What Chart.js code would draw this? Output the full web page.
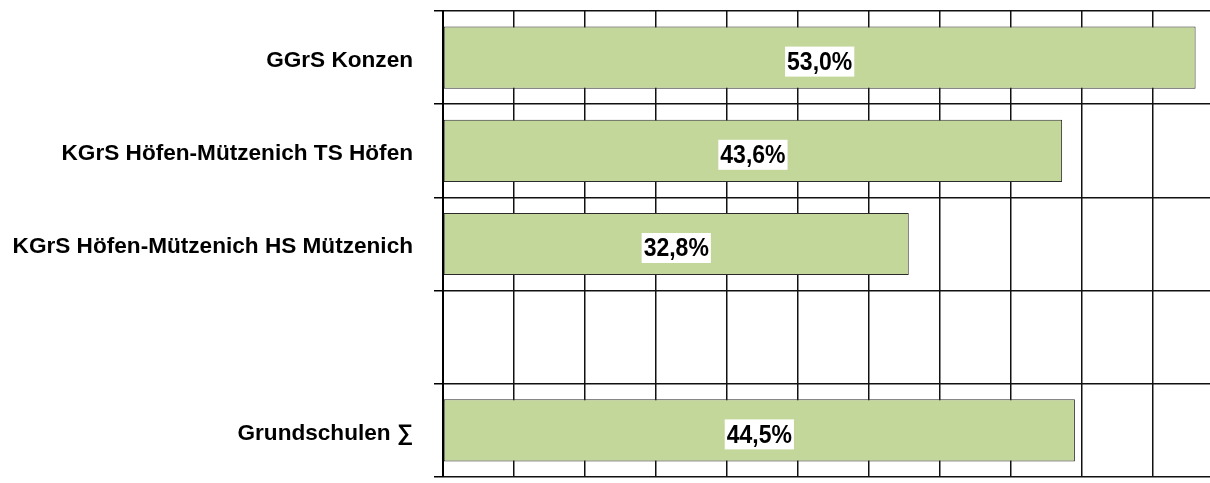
<!DOCTYPE html>
<html>
<head>
<meta charset="utf-8">
<script src="https://cdn.jsdelivr.net/npm/chart.js@4"></script>
<style>
  html, body { margin: 0; padding: 0; background: #fff; overflow: hidden; }
  #wrap { width: 1240px; height: 483px; }
</style>
</head>
<body>
<div id="wrap"><canvas id="schulenChart"></canvas></div>
<script>
// Kategorien (leere Zeile vor der Summe)
const schulen = ['GGrS Konzen', 'KGrS Höfen-Mützenich TS Höfen', 'KGrS Höfen-Mützenich HS Mützenich', '', 'Grundschulen ∑'];
const anteile = [53.0, 43.6, 32.8, null, 44.5];
const achseMax = 55;
const achseSchritt = 5;

const schrift = "'Liberation Sans', Arial, sans-serif";

// Werte mit weißem Kasten mittig in den Balken
const wertLabels = {
    id: 'wertLabels',
    afterDatasetsDraw(chart) {
        const ctx = chart.ctx;
        const meta = chart.getDatasetMeta(0);
        ctx.save();
        ctx.font = 'bold 23px ' + schrift;
        ctx.textAlign = 'center';
        ctx.textBaseline = 'middle';
        meta.data.forEach((bar, i) => {
            const v = anteile[i];
            if (v === null) return;
            const txt = v.toFixed(1).replace('.', ',') + '%';
            const cx = (bar.x + bar.base) / 2;
            const cy = bar.y + 4;
            const w = ctx.measureText(txt).width + 4;
            ctx.fillStyle = '#ffffff';
            ctx.fillRect(cx - w / 2, cy - 15, w, 30);
            // Schrift im Original etwas hoeher gezogen
            ctx.save();
            ctx.translate(cx, cy + 1);
            ctx.scale(1, 1.13);
            ctx.fillStyle = '#000000';
            ctx.fillText(txt, 0, 0);
            ctx.restore();
        });
        ctx.restore();
    }
};

const ctx = document.getElementById('schulenChart').getContext('2d');
new Chart(ctx, {
    type: 'bar',
    data: {
        labels: schulen,
        datasets: [{
            data: anteile,
            backgroundColor: '#C4D79B',
            borderColor: '#2b2b2b',
            borderWidth: 1,
            borderSkipped: false,
            categoryPercentage: 1,
            barPercentage: 0.667
        }]
    },
    options: {
        indexAxis: 'y',
        responsive: true,
        maintainAspectRatio: false,
        animation: false,
        layout: {padding: {top: 11, bottom: 6, left: 0, right: 16}},
        plugins: {
            legend: {display: false},
            tooltip: {enabled: false}
        },
        scales: {
            x: {
                min: 0,
                max: achseMax,
                ticks: {display: false, stepSize: achseSchritt},
                grid: {color: '#111111', lineWidth: 1.5, drawTicks: false},
                border: {display: false},
                afterFit: axis => { axis.height = 0; axis.paddingLeft = 0; axis.paddingRight = 0; }
            },
            y: {
                ticks: {
                    color: '#000000',
                    font: {family: schrift, size: 22.6, weight: 'bold', lineHeight: '6px'},
                    padding: 21,
                    // leere erste Zeile schiebt die Beschriftung 3px nach unten
                    callback: function (value) {
                        return ['', this.getLabelForValue(value)];
                    }
                },
                grid: {
                    offset: true,
                    color: '#111111',
                    lineWidth: 1.5,
                    tickLength: 9,
                    tickColor: '#000000'
                },
                border: {display: true, color: '#000000', width: 2},
                afterFit: axis => { axis.width = 443; axis.paddingTop = 0; axis.paddingBottom = 0; }
            }
        }
    },
    plugins: [wertLabels]
});
</script>
</body>
</html>
